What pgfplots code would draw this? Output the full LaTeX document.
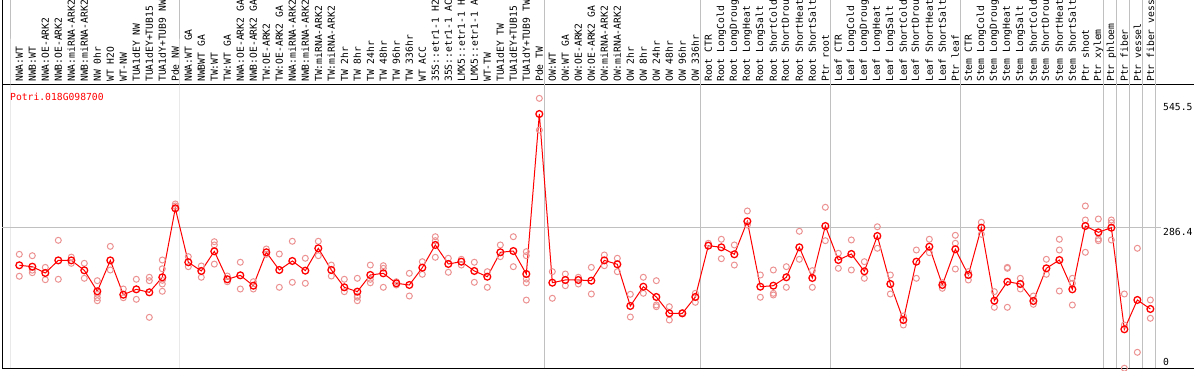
\documentclass[border=0pt]{standalone}
\usepackage{pgfplots}
\pgfplotsset{compat=1.18}
\usepackage{fontspec}
\setmainfont{DejaVu Sans Mono}
\definecolor{meanred}{RGB}{255,0,0}
\definecolor{reppink}{RGB}{236,146,146}
\definecolor{sepgray}{RGB}{192,192,192}
\newcommand{\lblfont}{\fontsize{9.7}{10}\selectfont}

\pgfplotstableread{
x y
0 206.5
1 203.5
2 190
3 217
4 217
5 195.7
6 150.8
7 217
8 143.5
9 155
10 148.6
11 180.8
12 328.5
13 213
14 194.3
15 236.4
16 176.5
17 185
18 162.8
19 234.3
20 196.4
21 215.7
22 195
23 242.9
24 196.4
25 159.3
26 150
27 185.7
28 189.3
29 167.9
30 164.3
31 201.4
32 250
33 209.3
34 214.2
35 194.3
36 182
37 234.3
38 237
39 187.8
40 530.5
41 169.2
42 175
43 175
44 173.5
45 217
46 208.6
47 119.3
48 160.6
49 138.6
50 103.6
51 103.6
52 138.6
53 248.5
54 245
55 230
56 300.7
57 160.6
58 162.8
59 180.8
60 245
61 179.3
62 290.6
63 217.8
64 230.7
65 193.6
66 269.2
67 166.4
68 89.3
69 214.2
70 246.3
71 164.3
72 240.7
73 185.7
74 287
75 130.6
76 171.3
77 166.4
78 130
79 200
80 217.8
81 155
82 290.6
83 277.1
84 287
85 69.4
86 132.2
87 112.9
}\meandata

\pgfplotstableread{
x y
0 230
0 183
1 227
1 196
1 190.6
2 202
2 175.6
3 260
3 176.5
4 224
4 210.7
5 210.7
5 178.6
6 173.5
6 144.4
6 137
6 130.6
7 247
7 196.4
8 155.7
8 137
9 176.5
9 133.6
10 180.8
10 173.5
10 95
11 217.8
11 199
11 174.3
11 166.4
11 150.8
12 337.8
12 333.5
13 225
13 203.5
14 205
14 180.8
15 257
15 250
15 209
16 183.5
16 171.3
17 213
17 155.7
18 171.3
18 155.7
19 241.4
19 230
20 230.7
20 159.3
21 257.9
21 170
22 221.5
22 167.9
23 257.9
23 227
24 207
24 183.5
25 176.5
25 150
26 178.6
26 140.7
26 138
26 130.6
27 207
27 176.5
27 169
28 205.6
28 200
28 159.3
29 171.3
29 164.3
30 189.3
30 140.7
31 214.2
31 187.2
32 267.7
32 259.2
32 223.6
33 221.5
33 191.5
34 219.3
34 207
35 213
35 170
36 192.8
36 159.3
37 250
37 225
38 267.7
38 203.5
39 235.6
39 227
39 177
39 169
39 132
40 564
40 496
41 192.8
41 135.8
42 187.8
42 162.8
43 180.8
43 166.4
44 202
44 145
45 228.5
45 205.6
46 221.5
46 192.8
47 144.4
47 95.7
48 180.8
48 146.5
49 173.5
49 121.4
49 117.8
50 117.8
50 89.3
51 105
52 146.5
52 127.2
53 253.6
54 262.2
54 220.6
55 250
55 207
56 322.8
56 292.8
57 185.7
57 138
58 196.4
58 146.5
58 142.9
59 203.5
59 159.3
60 279.3
60 219.3
61 195
61 159.3
62 330.7
62 259.2
63 232.2
63 200
64 260.7
64 196.4
65 214.2
65 178.6
66 289
66 242.9
67 185.7
67 145
68 97.9
68 78.6
69 239.2
69 178.6
70 262.2
70 233.5
71 169.2
71 157.2
72 270.7
72 253.6
72 198.5
73 192.8
73 175
74 298.6
74 272.9
75 150
75 116.5
76 202
76 200
76 116.5
77 178.6
77 155.7
78 140.7
78 122.9
79 219.3
79 187.2
80 262.2
80 239.2
80 151.4
81 178.6
81 167.9
81 121.4
82 333.5
82 303.5
82 234.3
83 305.6
83 262.8
83 259.2
84 303.5
84 297.7
84 260.7
85 145
85 78.6
85 -14
86 242.9
86 20.1
87 132.2
87 93
}\repdata

\begin{document}
\begin{tikzpicture}
\path[use as bounding box] (-2pt,-2pt) rectangle (1192pt,368pt);
\clip (-2pt,-2pt) rectangle (1192pt,368pt);
\begin{axis}[
  scale only axis, width=1192pt, height=283pt,
  xmin=-1.331, xmax=90.36, ymin=-13.5, ymax=592.6,
  clip=false,
  axis line style={black, line width=1pt},
  major tick length=0pt,
  xtick={0,...,87},
  xticklabels={
    {NWA:WT},{NWB:WT},{NWA:OE-ARK2},{NWB:OE-ARK2},{NWA:miRNA-ARK2},{NWB:miRNA-ARK2},
    {NW 0hr},{WT H2O},{WT-NW},{TUA1dEY NW},{TUA1dEY+TUB15 NW},{TUA1dY+TUB9 NW},{Pde NW},
    {NWA:WT GA},{NWBWT GA},{TW:WT},{TW:WT GA},{NWA:OE-ARK2 GA},{NWB:OE-ARK2 GA},
    {TW:OE-ARK2},{TW:OE-ARK2 GA},{NWA:miRNA-ARK2 GA},{NWB:miRNA-ARK2 GA},{TW:miRNA-ARK2},
    {TW:miRNA-ARK2 GA},{TW 2hr},{TW 8hr},{TW 24hr},{TW 48hr},{TW 96hr},{TW 336hr},{WT ACC},
    {35S::etr1-1 H2O},{35S::etr1-1 ACC},{LMX5::etr1-1 H2O},{LMX5::etr1-1 ACC},{WT-TW},
    {TUA1dEY TW},{TUA1dEY+TUB15 TW},{TUA1dY+TUB9 TW},{Pde TW},
    {OW:WT},{OW:WT GA},{OW:OE-ARK2},{OW:OE-ARK2 GA},{OW:miRNA-ARK2},{OW:miRNA-ARK2 GA},
    {OW 2hr},{OW 8hr},{OW 24hr},{OW 48hr},{OW 96hr},{OW 336hr},
    {Root CTR},{Root LongCold},{Root LongDrought},{Root LongHeat},{Root LongSalt},
    {Root ShortCold},{Root ShortDrought},{Root ShortHeat},{Root ShortSalt},{Ptr root},
    {Leaf CTR},{Leaf LongCold},{Leaf LongDrought},{Leaf LongHeat},{Leaf LongSalt},
    {Leaf ShortCold},{Leaf ShortDrought},{Leaf ShortHeat},{Leaf ShortSalt},{Ptr leaf},
    {Stem CTR},{Stem LongCold},{Stem LongDrought},{Stem LongHeat},{Stem LongSalt},
    {Stem ShortCold},{Stem ShortDrought},{Stem ShortHeat},{Stem ShortSalt},{Ptr shoot},
    {Ptr xylem},{Ptr phloem},{Ptr fiber},{Ptr vessel},{Ptr fiber vessel}},
  xticklabel pos=upper,
  xticklabel style={rotate=90, anchor=west, font=\lblfont, inner sep=1pt},
  xticklabel shift=2pt,
  ytick={0,277.8,545.5},
  yticklabels={0,286.4,545.5},
  yticklabel pos=right,
  yticklabel style={anchor=west, xshift=-31pt, inner sep=0pt, font=\lblfont},
]
% separators and grid
\pgfplotsinvokeforeach{-0.64,12.36,40.36,52.36,62.36,72.36,83.36,84.36,85.36,86.36,87.36}{
  \draw[sepgray, line width=1pt] (axis cs:#1,-13.5) -- (axis cs:#1,592.6) -- ++(0pt,90pt);
}
\draw[sepgray, line width=1pt] (axis cs:-1.331,286.4) -- (axis cs:87.82,286.4);
\draw[black, line width=1pt] (rel axis cs:0,1) -- ++(0pt,90pt);
% replicates
\addplot[only marks, mark=o, mark size=3pt, color=reppink, mark options={line width=1pt}] table[x=x,y=y] {\repdata};
% means
\addplot[color=meanred, line width=1pt, mark=o, mark size=3.4pt, mark options={line width=1.3pt}] table[x=x,y=y] {\meandata};
\node[anchor=west, text=meanred, inner sep=0pt, font=\lblfont, xshift=8pt, yshift=-12pt] at (rel axis cs:0,1) {Potri.018G098700};
\end{axis}
\end{tikzpicture}
\end{document}
